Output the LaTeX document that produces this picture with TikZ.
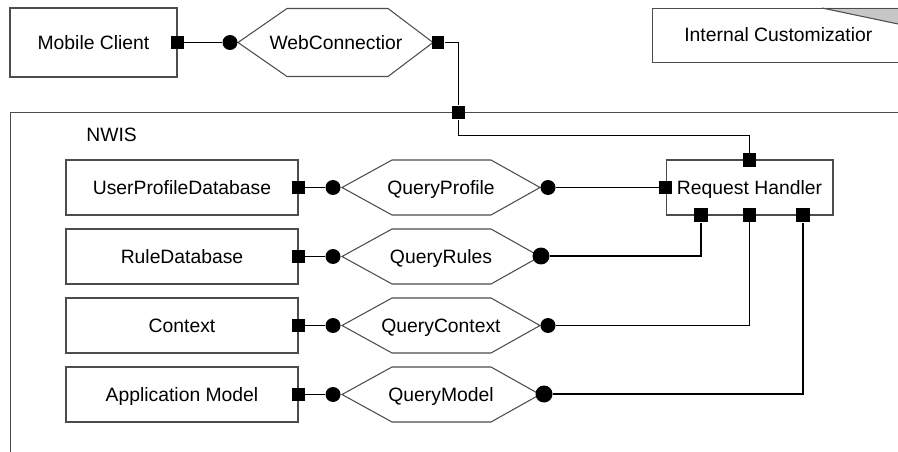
\documentclass[tikz,border=0pt]{standalone}
\usepackage{fontspec}
\setmainfont{Liberation Sans}
\begin{document}
\begin{tikzpicture}[x=0.02cm,y=-0.02cm,
  every node/.style={font=\fontsize{11}{13}\selectfont, inner sep=0pt, text height=7.9pt, text depth=0pt},
  comp/.style={draw=black!70, line width=0.6pt},
  dbbox/.style={comp, minimum width=4.64cm, minimum height=1.1cm},
  port/.style={fill=black, minimum size=0.25cm},
  bigport/.style={port, minimum size=0.29cm},
  sock/.style={circle, fill=black, minimum size=0.3cm},
  bigsock/.style={sock, minimum size=0.34cm},
  wire/.style={draw=black, line width=0.6pt},
  heavywire/.style={draw=black, line width=1.1pt}]

\useasboundingbox (0,0) rectangle (898,452);
\clip (0,0) rectangle (898,452);

% outer frames:
\draw[comp] (10.5,112.5) rectangle (960,520);
\node[anchor=west] (nwis) at (86,134.5) {NWIS};
\fill[black!22] (822,8) -- (960,8) -- (960,37) -- cycle;
\draw[comp] (822,8) -- (960,37);
\draw[comp] (652.5,8.5) rectangle (960,62.5);
\node[anchor=west] (internal) at (684,35) {Internal Customizatior};

% client and web connection:
\node[comp, minimum width=3.34cm, minimum height=1.38cm] (mobile) at (93.5,42.5) {Mobile Client};
\draw[comp] (238,42.5) -- (287,8.5) -- (388,8.5) -- (433,42.5) -- (388,76.5) -- (287,76.5) -- cycle;
\node (webconn) at (336,42.5) {WebConnectior};
\node[port] (mobile-p) at (177.5,42.5) {};
\node[sock] (webconn-in) at (230,42.5) {};
\node[port] (webconn-out) at (438,42.5) {};
\node[port] (nwis-p) at (458.5,112.5) {};

% request handler:
\node[comp, minimum width=3.34cm, minimum height=1.1cm] (handler) at (749.5,187.5) {Request Handler};
\node[port] (handler-top) at (749.5,160) {};
\node[port] (handler-in) at (665.5,187.5) {};
\node[bigport] (handler-b1) at (701,215) {};
\node[port] (handler-b2) at (749.5,215) {};
\node[bigport] (handler-b3) at (803,215) {};

% databases:
\node[dbbox] (profiledb) at (182,187.5) {UserProfileDatabase};
\node[dbbox] (ruledb) at (182,256.5) {RuleDatabase};
\node[dbbox] (context) at (182,325.5) {Context};
\node[dbbox] (appmodel) at (182,394.5) {Application Model};
\node[port] (profiledb-p) at (298.5,187.5) {};
\node[port] (ruledb-p) at (298.5,256.5) {};
\node[port] (context-p) at (298.5,325.5) {};
\node[port] (appmodel-p) at (298.5,394.5) {};

% queries:
\draw[comp] (342,187.5) -- (392,160) -- (491,160) -- (540,187.5) -- (491,215) -- (392,215) -- cycle;
\draw[comp] (342,256.5) -- (392,229) -- (491,229) -- (540,256.5) -- (491,284) -- (392,284) -- cycle;
\draw[comp] (342,325.5) -- (392,298) -- (491,298) -- (540,325.5) -- (491,353) -- (392,353) -- cycle;
\draw[comp] (342,394.5) -- (392,367) -- (491,367) -- (540,394.5) -- (491,422) -- (392,422) -- cycle;
\node (qprofile) at (441,187.5) {QueryProfile};
\node (qrules) at (441,256.5) {QueryRules};
\node (qcontext) at (441,325.5) {QueryContext};
\node (qmodel) at (441,394.5) {QueryModel};
\node[sock] (qprofile-in) at (333,187.5) {};
\node[sock] (qrules-in) at (333,256.5) {};
\node[sock] (qcontext-in) at (333,325.5) {};
\node[sock] (qmodel-in) at (333,394.5) {};
\node[sock] (qprofile-out) at (548,187.5) {};
\node[bigsock] (qrules-out) at (541,256) {};
\node[sock] (qcontext-out) at (548,325.5) {};
\node[bigsock] (qmodel-out) at (544,394) {};

% connectors:
\coordinate (drop) at (458.5,135.5);
\draw[wire] (mobile-p) -- (webconn-in);
\draw[wire] (webconn-out) -| (nwis-p);
\draw[wire] (nwis-p) -- (drop) -| (handler-top);
\draw[wire] (profiledb-p) -- (qprofile-in);
\draw[wire] (ruledb-p) -- (qrules-in);
\draw[wire] (context-p) -- (qcontext-in);
\draw[wire] (appmodel-p) -- (qmodel-in);
\draw[wire] (qprofile-out) -- (handler-in);
\draw[heavywire] (qrules-out) -| (handler-b1);
\draw[wire] (qcontext-out) -| (handler-b2);
\draw[heavywire] (qmodel-out) -| (handler-b3);

\end{tikzpicture}
\end{document}
